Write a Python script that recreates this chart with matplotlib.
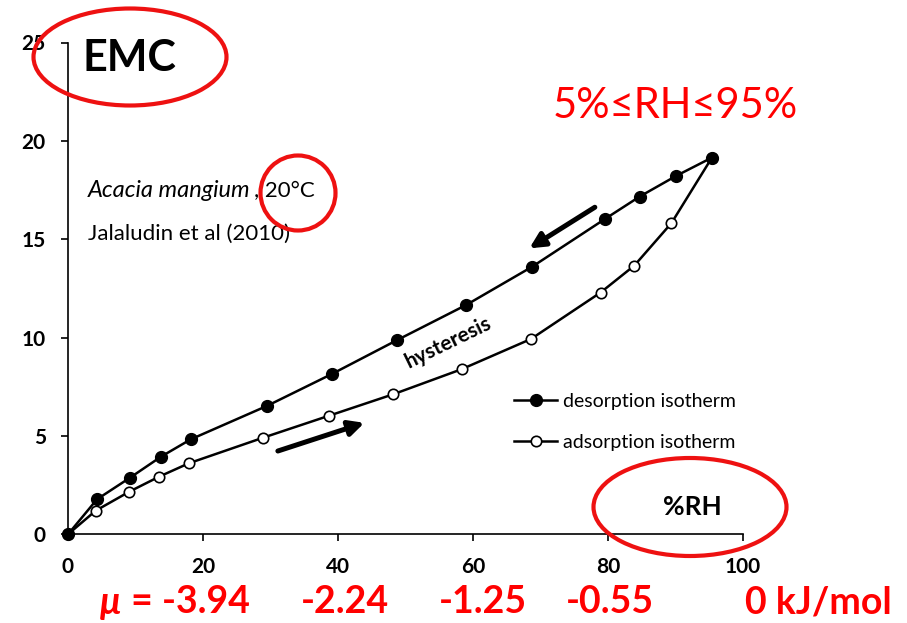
import matplotlib
matplotlib.use("Agg")
import matplotlib.pyplot as plt
from matplotlib.patches import Ellipse

plt.rcParams['font.family'] = ['Lato', 'DejaVu Sans']

# Sorption isotherms of Acacia mangium at 20 C (Jalaludin et al 2010)
rh_des = [0, 4.3, 9.2, 13.8, 18.2, 29.5, 39.1, 48.8, 59.0, 68.8, 79.6, 84.7, 90.1, 95.4]
emc_des = [0, 1.78, 2.88, 3.95, 4.83, 6.53, 8.15, 9.88, 11.66, 13.61, 16.04, 17.17, 18.22, 19.15]
rh_ads = [0, 4.1, 9.1, 13.5, 17.9, 28.9, 38.6, 48.2, 58.3, 68.6, 78.9, 83.9, 89.4, 95.4]
emc_ads = [0, 1.2, 2.17, 2.93, 3.61, 4.91, 6.02, 7.12, 8.39, 9.93, 12.29, 13.66, 15.82, 19.15]

x_ticks = [0, 20, 40, 60, 80, 100]
y_ticks = [0, 5, 10, 15, 20, 25]
mu_labels = ["= -3.94", "-2.24", "-1.25", "-0.55", "0 kJ/mol"]
mu_x = [190, 345, 483, 610, 818]

W, H = 907, 623
fig = plt.figure(figsize=(W / 100, H / 100), dpi=100)
ax = fig.add_axes([68 / W, 1 - 534.3 / H, (743 - 68) / W, (534.3 - 42.5) / H])

ax.plot(rh_ads, emc_ads, '-', color='black', lw=1.8, marker='o', ms=7.5,
        mfc='white', mec='black', mew=1.2, clip_on=False, zorder=3,
        label='adsorption isotherm')
ax.plot(rh_des, emc_des, '-', color='black', lw=1.8, marker='o', ms=8.5,
        mfc='black', mec='black', clip_on=False, zorder=4,
        label='desorption isotherm')

ax.set_xlim(0, 100)
ax.set_ylim(0, 25)
ax.set_xticks(x_ticks)
ax.set_yticks(y_ticks)
ax.spines['top'].set_visible(False)
ax.spines['right'].set_visible(False)
for s in ('left', 'bottom'):
    ax.spines[s].set_linewidth(1.2)
ax.tick_params(direction='out', length=5, width=1.2, labelsize=15, pad=11)
for lab in ax.get_xticklabels() + ax.get_yticklabels():
    lab.set_fontweight('bold')

handles, labels = ax.get_legend_handles_labels()
ax.legend(handles[::-1], labels[::-1], loc='upper left',
          bbox_to_anchor=(0.635, 0.323), frameon=False, fontsize=14,
          handlelength=2.2, handletextpad=0.3, labelspacing=1.25)

# direction arrows
arrow = dict(arrowstyle='-|>,head_length=0.9,head_width=0.45', lw=3.6, color='black')
ax.annotate('', xy=(44.3, 5.71), xytext=(30.7, 4.19), arrowprops=arrow)
ax.annotate('', xy=(68.0, 14.46), xytext=(78.4, 16.7), arrowprops=arrow)

ax.text(56.4, 9.75, 'hysteresis', rotation=26, fontsize=15, fontweight='bold',
        ha='center', va='center')

ax.text(2.9, 17.15, 'Acacia mangium', fontsize=17, style='italic', va='baseline')
ax.text(27.6, 17.15, ', 20\u00b0C', fontsize=16, va='baseline')
ax.text(2.9, 14.95, 'Jalaludin et al (2010)', fontsize=16, va='baseline')

# labels placed in figure pixels
def fx(x):
    return x / W


def fy(y):
    return 1 - y / H


fig.text(fx(129), fy(58), 'EMC', fontsize=31, fontweight='bold', ha='center', va='center')
fig.text(fx(675), fy(106), '5%\u2264RH\u226495%', fontsize=30, color='#ff0000',
         ha='center', va='center')
fig.text(fx(692), fy(507), '%RH', fontsize=19, fontweight='bold', ha='center', va='center')

fig.text(fx(100), fy(602), '\u03bc', fontsize=27, fontweight='bold', style='italic',
         color='#ff0000', ha='left', va='center')
for lbl, x in zip(mu_labels, mu_x):
    fig.text(fx(x), fy(602), lbl, fontsize=27, fontweight='bold', color='#ff0000',
             ha='center', va='center')

# red highlight rings
red = '#ee1111'
for cx, cy, w, h in [(130, 57, 193, 97), (298, 193, 75, 75), (690, 507, 193, 98)]:
    fig.add_artist(Ellipse((fx(cx), fy(cy)), w / W, h / H, transform=fig.transFigure,
                           fill=False, ec=red, lw=3))

fig.savefig('out.png', dpi=100)
